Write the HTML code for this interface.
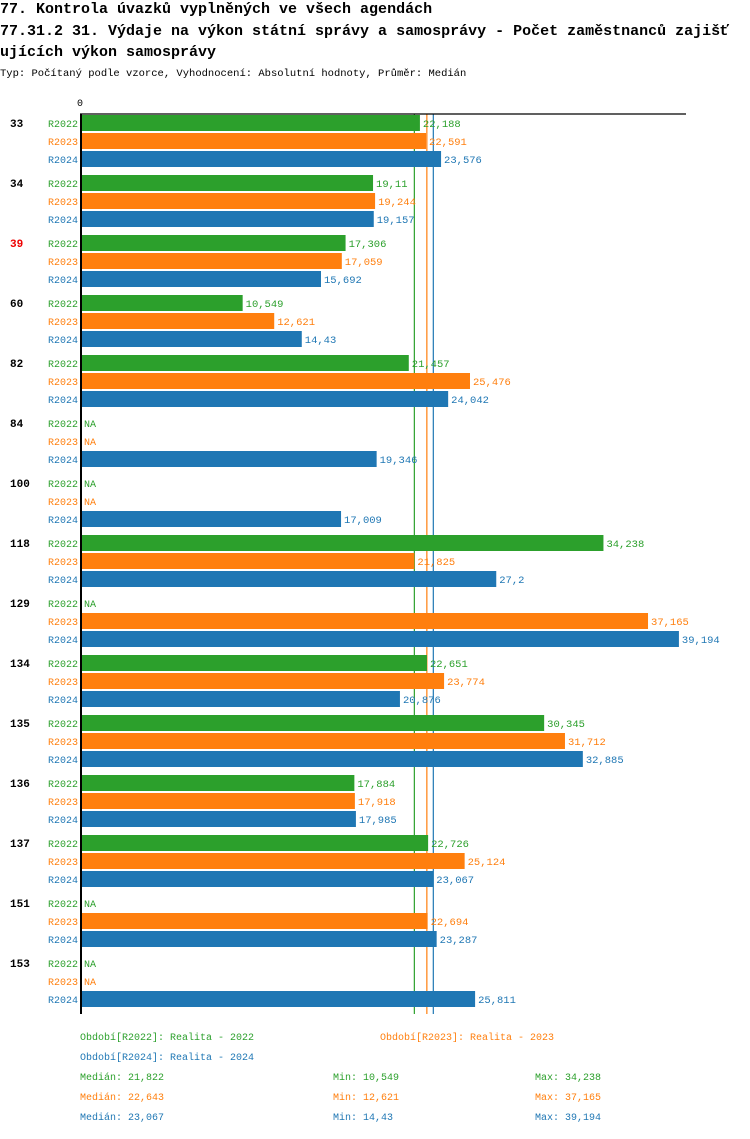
<!DOCTYPE html>
<html><head><meta charset="utf-8">
<style>
body{margin:0;background:#fff;width:750px;height:1134px;overflow:hidden;font-family:"Liberation Mono","DejaVu Sans Mono",monospace;}
svg text{font-family:"Liberation Mono","DejaVu Sans Mono",monospace;}
</style></head>
<body>
<svg id="chart" width="750" height="1134" xmlns="http://www.w3.org/2000/svg">
<text x="0" y="13" font-size="15" font-weight="bold">77. Kontrola úvazků vyplněných ve všech agendách</text>
<text x="0" y="35" font-size="15" font-weight="bold">77.31.2 31. Výdaje na výkon státní správy a samosprávy - Počet zaměstnanců zajišť</text>
<text x="0" y="56" font-size="15" font-weight="bold">ujících výkon samosprávy</text>
<text x="0" y="76" font-size="10.5">Typ: Počítaný podle vzorce, Vyhodnocení: Absolutní hodnoty, Průměr: Medián</text>
<text x="77" y="106" font-size="10">0</text>
<g id="medianlines"></g>
<g id="marks"></g>
<line x1="80" y1="114" x2="686" y2="114" stroke="#000" stroke-width="1.2"/>
<line x1="81" y1="114" x2="81" y2="1014" stroke="#000" stroke-width="2"/>
<g id="legend"></g>
</svg>
<script>
const categories=["33","34","39","60","82","84","100","118","129","134","135","136","137","151","153"];
const seriesNames=["R2022","R2023","R2024"];
const r2022=[22.188,19.11,17.306,10.549,21.457,null,null,34.238,null,22.651,30.345,17.884,22.726,null,null];
const r2023=[22.591,19.244,17.059,12.621,25.476,null,null,21.825,37.165,23.774,31.712,17.918,25.124,22.694,null];
const r2024=[23.576,19.157,15.692,14.43,24.042,19.346,17.009,27.2,39.194,20.876,32.885,17.985,23.067,23.287,25.811];
const medians=[21.822,22.643,23.067];
const mins=[10.549,12.621,14.43];
const maxs=[34.238,37.165,39.194];
const highlighted=["39"];
const colors=["#2ca02c","#ff7f0e","#1f77b4"];
const NS="http://www.w3.org/2000/svg";
const x0=82, scale=15.23;
const xs=v=>x0+v*scale;
const fmt=v=>String(v).replace('.',',');
const g=document.getElementById('marks');
const mlg=document.getElementById('medianlines');
function mk(tag,attrs,parent){const e=document.createElementNS(NS,tag);for(const k in attrs)e.setAttribute(k,attrs[k]);parent.appendChild(e);return e;}
const series=[r2022,r2023,r2024];
medians.forEach((m,j)=>{
  const ln=mk('line',{x1:xs(m),x2:xs(m),y1:114,y2:1014,stroke:colors[j],'stroke-width':1.2},mlg);
  
  
});
categories.forEach((c,i)=>{
  const gy=115+i*60;
  const t=mk('text',{x:10,y:gy+12,'font-size':11,'font-weight':'bold',fill:highlighted.includes(c)?'#e00':'#000'},g);
  t.textContent=c;
  
  
  series.forEach((s,j)=>{
    const y=gy+j*18;
    const l=mk('text',{x:78,y:y+12,'font-size':10,fill:colors[j],'text-anchor':'end'},g);
    l.textContent=seriesNames[j];
    
    
    const v=s[i];
    if(v==null){
      const n=mk('text',{x:84,y:y+12,'font-size':10,fill:colors[j]},g);
      n.textContent='NA';
      
      
    }else{
      const r=mk('rect',{x:x0,y:y,width:xs(v)-x0,height:16,fill:colors[j]},g);
      
      
      const vt=mk('text',{x:xs(v)+3,y:y+12,'font-size':10.5,fill:colors[j]},g);
      vt.textContent=fmt(v);
      
      
    }
  });
});
const lg=document.getElementById('legend');
const legendLabels=["Období[R2022]: Realita - 2022","Období[R2023]: Realita - 2023","Období[R2024]: Realita - 2024"];
const legPos=[[80,1040],[380,1040],[80,1060]];
legendLabels.forEach((s,j)=>{
  const t=mk('text',{x:legPos[j][0],y:legPos[j][1],'font-size':10,fill:colors[j]},lg);
  t.textContent=s;
  
  
});
[0,1,2].forEach(j=>{
  const y=1080+j*20;
  const a=mk('text',{x:80,y:y,'font-size':10,fill:colors[j]},lg);
  a.textContent='Medián: '+fmt(medians[j]);
  
  
  const b=mk('text',{x:333,y:y,'font-size':10,fill:colors[j]},lg);
  b.textContent='Min: '+fmt(mins[j]);
  
  
  const d=mk('text',{x:535,y:y,'font-size':10,fill:colors[j]},lg);
  d.textContent='Max: '+fmt(maxs[j]);
  
  
});
</script>
</body></html>
